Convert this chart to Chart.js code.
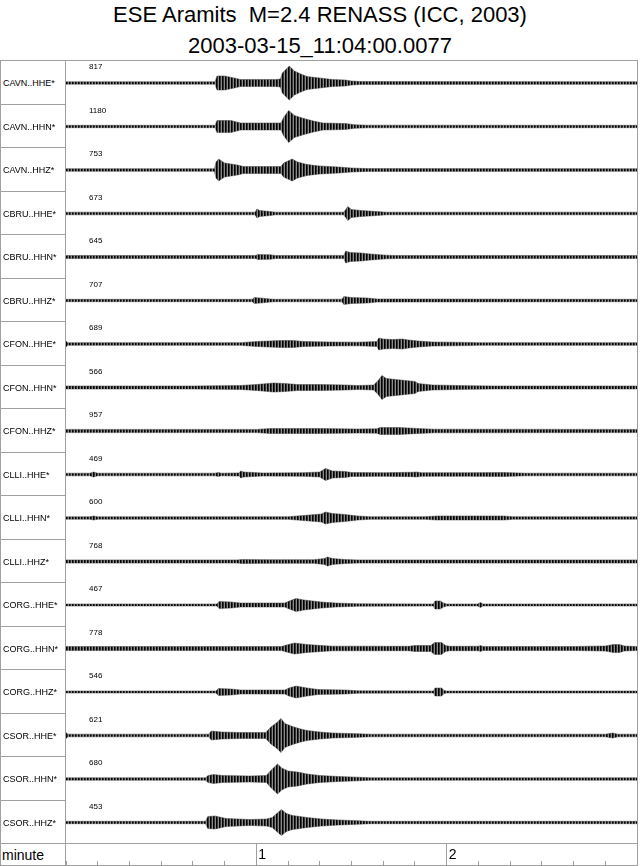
<!DOCTYPE html>
<html>
<head>
<meta charset="utf-8">
<script src="https://cdn.jsdelivr.net/npm/chart.js@4/dist/chart.umd.min.js"></script>
<style>
  body { margin: 0; background: #fff; font-family: "Liberation Sans", Arial, Helvetica, sans-serif; }
  #page { position: relative; width: 640px; height: 866px; overflow: hidden; }
  .title { position: absolute; left: 0; width: 640px; text-align: center; font-size: 22px; line-height: 31px; white-space: pre; color: #000; }
  .hl { position: absolute; height: 1px; background: #a0a0a0; }
  .vl { position: absolute; width: 1px; background: #a0a0a0; }
  .sta { position: absolute; left: 3px; font-size: 9px; line-height: 10px; color: #000; white-space: nowrap; }
  .peak { position: absolute; left: 89px; font-size: 8px; line-height: 10px; color: #000; }
  .axlab { position: absolute; font-size: 14px; line-height: 16px; color: #000; }
  canvas { position: absolute; }
</style>
</head>
<body>
<div id="page">
  <div class="title" style="top:-1px">ESE Aramits  M=2.4 RENASS (ICC, 2003)</div>
  <div class="title" style="top:30px">2003-03-15_11:04:00.0077</div>
  <div id="frame"></div>
  <canvas id="traces" width="571" height="783" style="left:66px;top:60px"></canvas>
  <canvas id="axis" width="571" height="22" style="left:66px;top:843px"></canvas>
  <div class="axlab" style="left:2px;top:847px">minute</div>
</div>
<script>
// station / channel names and the peak count written above each trace
const stations = ['CAVN..HHE*', 'CAVN..HHN*', 'CAVN..HHZ*', 'CBRU..HHE*', 'CBRU..HHN*', 'CBRU..HHZ*',
  'CFON..HHE*', 'CFON..HHN*', 'CFON..HHZ*', 'CLLI..HHE*', 'CLLI..HHN*', 'CLLI..HHZ*',
  'CORG..HHE*', 'CORG..HHN*', 'CORG..HHZ*', 'CSOR..HHE*', 'CSOR..HHN*', 'CSOR..HHZ*'];
const peakCounts = [817, 1180, 753, 673, 645, 707, 689, 566, 957, 469, 600, 768, 467, 778, 546, 621, 680, 453];

// time axis (seconds), labelled in minutes
const minuteTicks = [60, 120];
const minuteLabels = ['1', '2'];

// trace envelopes: [seconds, half amplitude]
const cavnHHE = [[0,1.2],[47,1.2],[47.6,7],[50,7],[53,5],[55,3.5],[66,3.5],[67.6,4],[68.2,10],[70.4,17],[72,12],[74,9],[76,6.5],[80,5],[84,3.5],[88,3],[90,2],[93,1.4],[180,1.2]];
const cavnHHN = [[0,1.2],[47,1.2],[47.6,6],[52,6],[55,3.5],[67.8,3.5],[68.6,9],[70.2,16],[72,11],[75,8],[78,5.5],[81,3.5],[88,3],[91,1.8],[95,1.3],[180,1.2]];
const cavnHHZ = [[0,1.3],[46.8,1.3],[47.3,8],[48.1,11],[50,7],[54,5],[56,3.5],[67.8,3.5],[68.6,7],[71.3,11],[73,8],[76,5.5],[80,4],[86,3],[90,2],[95,1.4],[180,1.3]];
const cbruHHE = [[0,1.3],[59.6,1.3],[60.2,4.5],[61,3],[64.4,2],[66,1.3],[87.5,1.3],[88.2,4],[88.8,7],[90,4],[93,3],[98,2],[101,1.3],[180,1.3]];
const cbruHHN = [[0,1.5],[59.8,1.5],[60.4,2.5],[64.4,2.2],[66,1.5],[87.6,1.6],[88.2,6],[89.5,4.5],[93,4],[96,3],[101,1.8],[104,1.5],[180,1.5]];
const cbruHHZ = [[0,1.2],[58.8,1.2],[59.3,3],[62,2.3],[64.4,1.5],[66,1.2],[87,1.3],[87.6,4],[90,3],[95,2.5],[98,1.5],[180,1.2]];
const cfonHHE = [[0,3],[0.5,1.3],[55,1.3],[60,2.5],[68,3.5],[71.5,3.5],[75,2.5],[83,2],[92,1.8],[98,2.5],[98.6,6],[100,5],[103,4.5],[106,5],[108,4],[111,3],[115.5,2],[127,1.6],[130,1.3],[180,1.3]];
const cfonHHN = [[0,1.5],[40,1.5],[55,2],[60,3],[65.5,4.5],[69,4],[73,3],[80,3],[88,2.5],[92,2],[97,2.5],[98.4,7],[99.6,12],[101,9],[104,8],[107,7],[110,6],[111,4],[115.5,2.5],[127,1.8],[135,1.5],[180,1.5]];
const cfonHHZ = [[0,1.6],[60,1.6],[64.4,2.5],[80,2.5],[92,2],[98,2.2],[99,3.5],[105,3.5],[111,2.5],[116,1.8],[180,1.6]];
const clliHHE = [[0,1.3],[7.5,1.3],[8.7,2.5],[10,1.3],[47,1.3],[48,2],[49,1.3],[54.5,1.6],[55.1,3.5],[56,2.5],[62,1.5],[75,1.8],[80,2.5],[81.8,6],[84,3.5],[88,3],[90,2],[100,1.8],[109,2.2],[110.5,2.5],[112,1.8],[127,1.8],[138,2],[145,1.3],[180,1.3]];
const clliHHN = [[0,1.2],[7.5,1.2],[8.7,2],[10,1.2],[70,1.3],[74.8,2.5],[80.5,4],[81.8,6],[84,4.5],[88,3.5],[92,2],[96,1.3],[113,1.3],[117,2],[138,2],[141,1.3],[180,1.2]];
const clliHHZ = [[0,1.6],[54,1.6],[55.5,2],[64,1.8],[78,1.8],[81.5,3],[82.4,4.5],[84,3],[88,2],[92,1.6],[180,1.6]];
const corgHHE = [[0,1],[47.5,1],[48.3,3.5],[52,3],[55,2],[69,2],[70,3.5],[72.5,6.5],[75,5],[80.5,3],[85,2],[92,1.2],[115.8,1],[116.3,4],[118,4],[119,2],[120,1],[129.8,1],[130.6,2.5],[131.5,1],[180,1]];
const corgHHN = [[0,2],[68,2],[69.5,3.5],[72,5.5],[76,4],[80.6,3],[84,2.3],[108,2.2],[110,3],[115,3],[116.2,6],[118.4,6],[119.6,3],[121,2.2],[130,2.2],[130.6,3],[131.5,2],[160,2],[170,2.5],[172.5,4],[174.5,4],[176,2.5],[180,2]];
const corgHHZ = [[0,1],[47.3,1],[48,3.5],[52,3],[55,2],[69,2],[70.3,4],[72.5,6],[76,4],[79.5,2.5],[88,2],[92,1.2],[115.8,1],[116.3,4],[118.4,4],[119.2,1.5],[120,1],[180,1]];
const csorHHE = [[0,3],[0.6,1.3],[45,1.3],[45.8,4.5],[49,3.5],[55,3],[63,3],[64.4,8],[66.5,13],[67.8,17],[69,12],[71.4,9],[74,6.5],[76,5],[80,3.5],[84,2.5],[92,1.8],[96,1.3],[170,1.3],[172.3,2.5],[174,1.3],[180,1.3]];
const csorHHN = [[0,1.2],[44,1.2],[44.8,3.5],[46.5,4.5],[49.3,3.5],[58,3],[63.2,3.5],[64.4,8],[66.7,15],[68,11],[70,8],[73,7],[76,5],[80,3.5],[86,2.5],[92,1.8],[96,1.2],[180,1.2]];
const csorHHZ = [[0,1.2],[44,1.2],[44.7,6],[47,6.5],[50.5,4],[58,3],[63.2,3.5],[65,5],[67.9,13],[69.5,9],[71.4,7],[76,5],[80.6,3.5],[86,2.5],[92,1.8],[96,1.2],[180,1.2]];

const traces = [cavnHHE, cavnHHN, cavnHHZ, cbruHHE, cbruHHN, cbruHHZ, cfonHHE, cfonHHN, cfonHHZ,
  clliHHE, clliHHN, clliHHZ, corgHHE, corgHHN, corgHHZ, csorHHE, csorHHN, csorHHZ];

const ROW_PX = 783 / stations.length;   // 43.5 px per trace row
const BASELINE = 23 / ROW_PX;            // trace zero line inside its row
const LINE = '#a0a0a0';

// frame, row separators and text on the left
const page = document.getElementById('page');
function addLine(cls, left, top, size) {
  const d = document.createElement('div');
  d.className = cls;
  d.style.left = left + 'px';
  d.style.top = top + 'px';
  if (cls === 'hl') d.style.width = size + 'px'; else d.style.height = size + 'px';
  page.appendChild(d);
}
addLine('hl', 0, 60, 638);
addLine('hl', 0, 865, 638);
addLine('hl', 0, 843, 638);
addLine('vl', 0, 60, 806);
addLine('vl', 637, 60, 806);
addLine('vl', 65, 60, 806);
stations.forEach((name, i) => {
  const top = 60 + i * ROW_PX;
  if (i > 0) addLine('hl', 0, Math.round(top), 65);
  const s = document.createElement('div');
  s.className = 'sta';
  s.textContent = name;
  s.style.top = (top + 18) + 'px';
  page.appendChild(s);
  const p = document.createElement('div');
  p.className = 'peak';
  p.textContent = peakCounts[i];
  p.style.top = (top + 2) + 'px';
  page.appendChild(p);
});

// traces
const canvas = document.getElementById('traces');
const ctx = canvas.getContext('2d');

// vertical hatch so the bursts read like dense wiggles
const pc = document.createElement('canvas');
pc.width = 3; pc.height = 1;
const pctx = pc.getContext('2d');
pctx.fillStyle = '#000'; pctx.fillRect(0, 0, 1, 1);
pctx.fillStyle = '#333'; pctx.fillRect(1, 0, 1, 1);
pctx.fillStyle = '#8a8a8a'; pctx.fillRect(2, 0, 1, 1);
const hatch = ctx.createPattern(pc, 'repeat');

const datasets = [];
traces.forEach((env, i) => {
  const base = i + BASELINE;
  datasets.push({
    data: env.map(([t, a]) => ({ x: t, y: base - a / ROW_PX })),
    fill: '+1',
    backgroundColor: hatch,
    borderColor: '#444',
    borderWidth: 0.5,
    pointRadius: 0,
    tension: 0
  });
  datasets.push({
    data: env.map(([t, a]) => ({ x: t, y: base + a / ROW_PX })),
    fill: false,
    borderColor: '#444',
    borderWidth: 0.5,
    pointRadius: 0,
    tension: 0
  });
});

new Chart(ctx, {
  type: 'line',
  data: { datasets },
  options: {
    responsive: false,
    animation: false,
    events: [],
    layout: { padding: 0 },
    plugins: { legend: { display: false }, tooltip: { enabled: false } },
    scales: {
      x: { type: 'linear', min: 0, max: 180, display: false },
      y: { type: 'linear', min: 0, max: stations.length, reverse: true, display: false }
    }
  }
});

// time axis row
const minuteLabelPlugin = {
  id: 'minuteLabels',
  afterDraw(chart) {
    const sx = chart.scales.x;
    const c = chart.ctx;
    c.save();
    c.font = '14px "Liberation Sans", Arial, sans-serif';
    c.fillStyle = '#000';
    c.textBaseline = 'middle';
    minuteTicks.forEach((v, k) => c.fillText(minuteLabels[k], sx.getPixelForValue(v) + 2, 12));
    c.restore();
  }
};

new Chart(document.getElementById('axis').getContext('2d'), {
  type: 'line',
  data: { datasets: [] },
  plugins: [minuteLabelPlugin],
  options: {
    responsive: false,
    animation: false,
    events: [],
    layout: { padding: 0 },
    plugins: { legend: { display: false }, tooltip: { enabled: false } },
    scales: {
      x: {
        type: 'linear', min: 0, max: 180, position: 'bottom',
        border: { display: false },
        ticks: { display: false, stepSize: 10 },
        grid: {
          drawOnChartArea: true,
          drawTicks: true,
          tickLength: 4,
          color: (c) => (minuteTicks.includes(c.tick.value) ? LINE : 'rgba(0,0,0,0)'),
          tickColor: LINE
        }
      },
      y: { display: false }
    }
  }
});
</script>
</body>
</html>
